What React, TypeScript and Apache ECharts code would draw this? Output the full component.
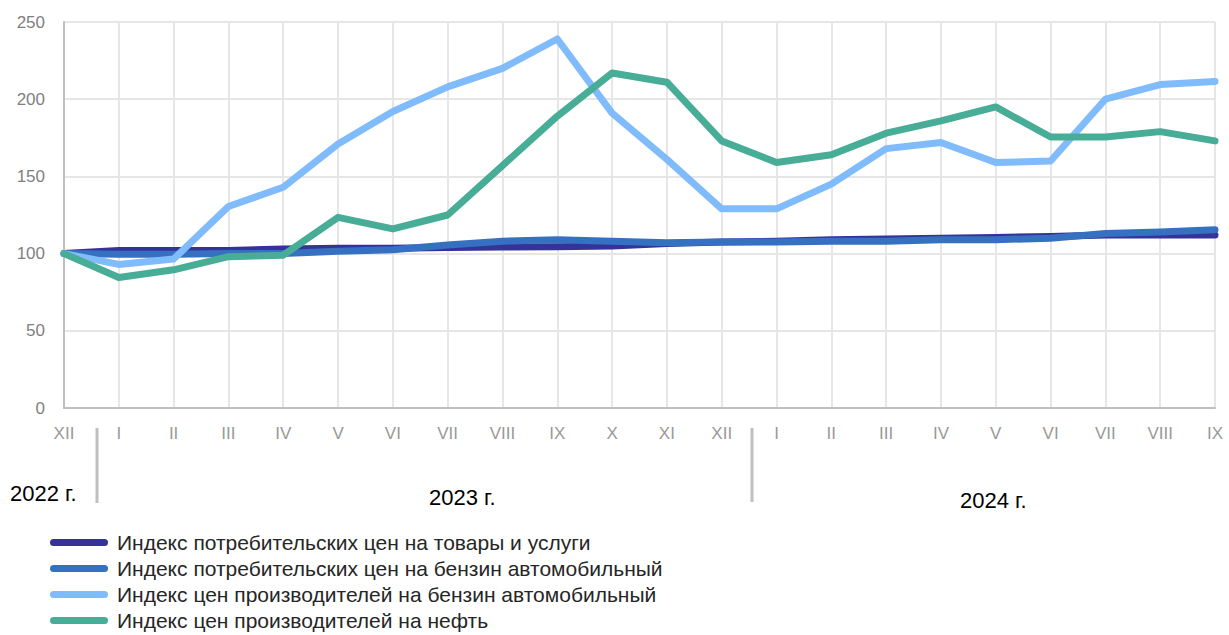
import React, { useEffect, useRef } from "react";
import * as echarts from "echarts";

const months = ["XII", "I", "II", "III", "IV", "V", "VI", "VII", "VIII", "IX", "X", "XI", "XII", "I", "II", "III", "IV", "V", "VI", "VII", "VIII", "IX"];

const seriesNames = [
  "Индекс потребительских цен на товары и услуги",
  "Индекс потребительских цен на бензин автомобильный",
  "Индекс цен производителей на бензин автомобильный",
  "Индекс цен производителей на нефть",
];

const cpiAll = [100, 102, 102, 102, 103, 103.5, 103.5, 104, 104.3, 104.5, 105, 106.5, 107.5, 108, 109, 109.5, 110, 110.5, 111, 112, 112, 112];
const cpiGasoline = [100, 99.5, 99.5, 100, 100, 101.5, 102.5, 105.5, 108, 109, 108, 107, 107.5, 107.5, 108, 108, 109, 109, 110, 113, 114, 115.5];
const ppiGasoline = [100, 93, 96.5, 130.5, 143, 171, 192, 208, 220, 239, 191, 161, 129, 129, 145, 168, 172, 159, 160, 200, 209.5, 211.5];
const ppiOil = [100, 84.5, 89.5, 98, 99, 123.5, 116, 125, 157, 189, 217, 211, 173, 159, 164, 178, 186, 195, 175.5, 175.5, 179, 173];

const colors = ["#35339a", "#3671c1", "#80bbfb", "#48ad96"];
const yearLabels = ["2022 г.", "2023 г.", "2024 г."];

const font = "'Liberation Sans', Arial, sans-serif";

export default function App() {
  const ref = useRef<HTMLDivElement>(null);
  useEffect(() => {
    if (!ref.current) return;
    const chart = echarts.init(ref.current, null, { renderer: "svg" });
    const data = [cpiAll, cpiGasoline, ppiGasoline, ppiOil];
    const capsule = "path://M3.5,0 H54.5 A3.5,3.5 0 0 1 54.5,7 H3.5 A3.5,3.5 0 0 1 3.5,0 Z";
    chart.setOption({
      animation: false,
      color: colors,
      textStyle: { fontFamily: font },
      grid: { left: 64, right: 14, top: 22, bottom: 227, containLabel: false },
      legend: {
        orient: "vertical",
        left: 50,
        top: 532,
        height: 110,
        padding: 0,
        itemWidth: 58,
        itemHeight: 7,
        itemGap: 5,
        icon: capsule,
        textStyle: { fontSize: 21, lineHeight: 19, color: "#262626", fontFamily: font, padding: [0, 0, 0, 4] },
        data: seriesNames.map((n) => ({ name: n, icon: capsule })),
      },
      xAxis: {
        type: "category",
        data: months,
        boundaryGap: false,
        axisLine: { lineStyle: { color: "#bfbfbf", width: 2 } },
        axisTick: { show: false },
        axisLabel: { color: "#999999", fontSize: 17, margin: 17, interval: 0, fontFamily: font },
        splitLine: { show: true, lineStyle: { color: "#e6e6e6", width: 2 } },
      },
      yAxis: {
        type: "value",
        min: 0,
        max: 250,
        interval: 50,
        axisLine: { show: true, lineStyle: { color: "#bfbfbf", width: 2 } },
        axisTick: { show: false },
        axisLabel: { color: "#7f7f7f", fontSize: 17, margin: 19, fontFamily: font },
        splitLine: { lineStyle: { color: "#e6e6e6", width: 2 } },
      },
      series: seriesNames.map((name, i) => ({
        name,
        type: "line",
        data: data[i],
        symbol: "none",
        lineStyle: { width: 7, color: colors[i], cap: "round", join: "round" },
        z: 2 + i,
      })),
      graphic: [
        { type: "line", shape: { x1: 97, y1: 428, x2: 97, y2: 503 }, style: { stroke: "#bfbfbf", lineWidth: 3 } },
        { type: "line", shape: { x1: 752, y1: 428, x2: 752, y2: 502 }, style: { stroke: "#bfbfbf", lineWidth: 3 } },
        { type: "text", left: 10, top: 482, style: { text: yearLabels[0], fontSize: 22, fill: "#000", fontFamily: font } },
        { type: "text", left: 429, top: 486, style: { text: yearLabels[1], fontSize: 22, fill: "#000", fontFamily: font } },
        { type: "text", left: 960, top: 489, style: { text: yearLabels[2], fontSize: 22, fill: "#000", fontFamily: font } },
      ],
    });
    return () => chart.dispose();
  }, []);
  return <div ref={ref} style={{ width: 1229, height: 635, position: "absolute", left: 0, top: 0 }} />;
}
